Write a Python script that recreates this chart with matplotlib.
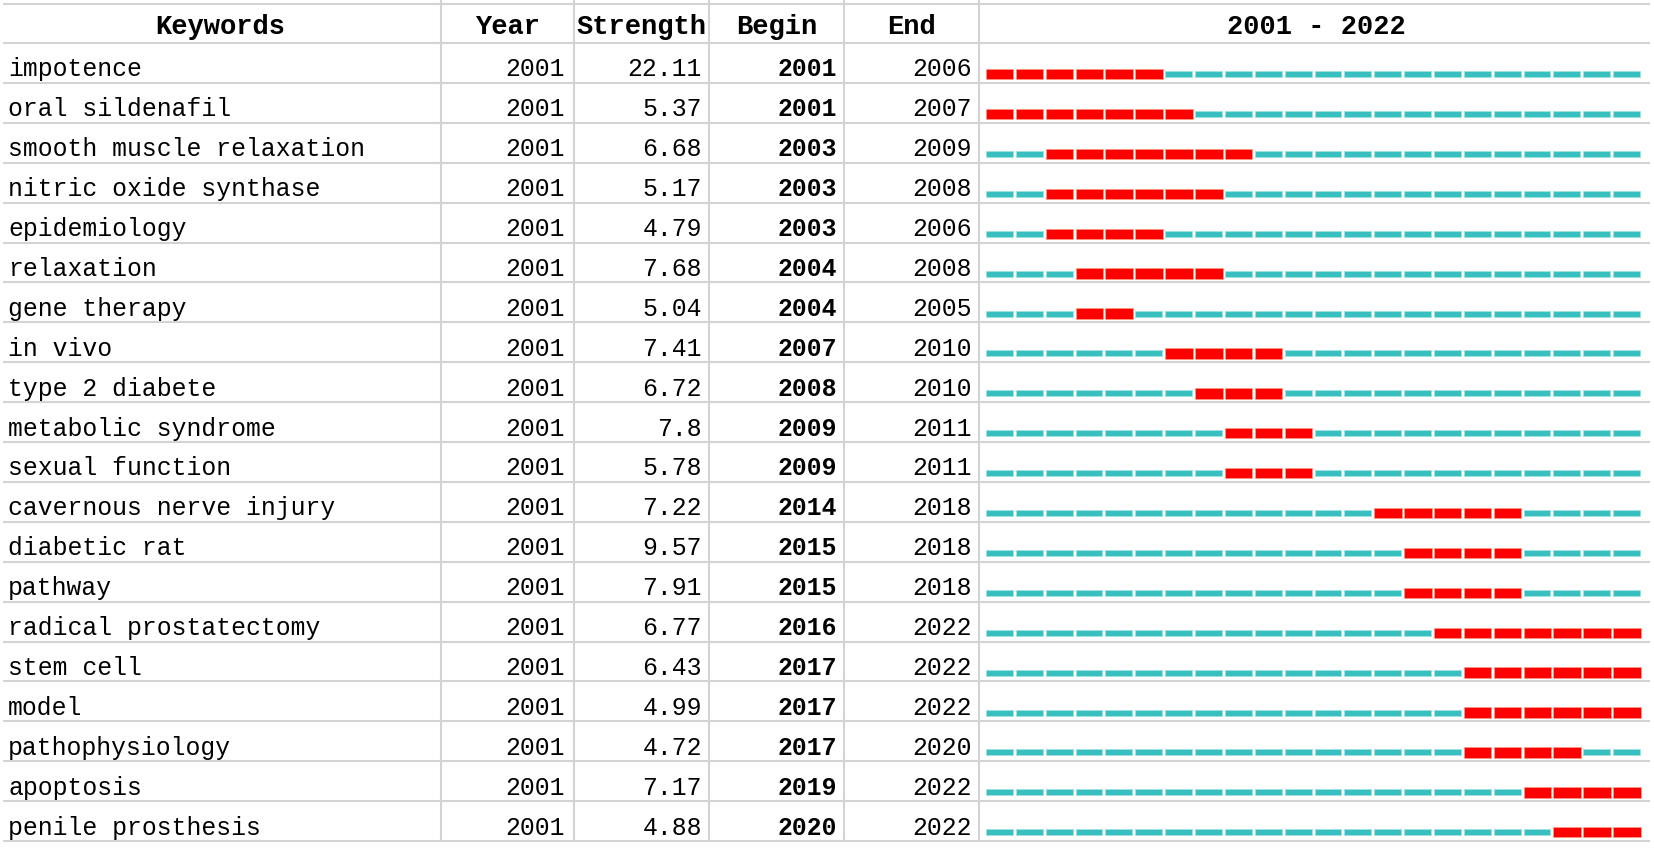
import numpy as np
import matplotlib
matplotlib.use('Agg')
import matplotlib.pyplot as plt

plt.rcParams['font.family'] = ['Liberation Mono', 'DejaVu Sans Mono']

# burst data
keywords = ['impotence', 'oral sildenafil', 'smooth muscle relaxation',
            'nitric oxide synthase', 'epidemiology', 'relaxation',
            'gene therapy', 'in vivo', 'type 2 diabete', 'metabolic syndrome',
            'sexual function', 'cavernous nerve injury', 'diabetic rat',
            'pathway', 'radical prostatectomy', 'stem cell', 'model',
            'pathophysiology', 'apoptosis', 'penile prosthesis']
year = [2001] * 20
strength = [22.11, 5.37, 6.68, 5.17, 4.79, 7.68, 5.04, 7.41, 6.72, 7.8,
            5.78, 7.22, 9.57, 7.91, 6.77, 6.43, 4.99, 4.72, 7.17, 4.88]
begin = [2001, 2001, 2003, 2003, 2003, 2004, 2004, 2007, 2008, 2009,
         2009, 2014, 2015, 2015, 2016, 2017, 2017, 2017, 2019, 2020]
end = [2006, 2007, 2009, 2008, 2006, 2008, 2005, 2010, 2010, 2011,
       2011, 2018, 2018, 2018, 2022, 2022, 2022, 2020, 2022, 2022]
headers = ['Keywords', 'Year', 'Strength', 'Begin', 'End']
first_year, last_year = 2001, 2022

W, H = 1654, 848
fig = plt.figure(figsize=(W / 100, H / 100), dpi=100)

# table layer in pixel units
tab = fig.add_axes([0, 0, 1, 1])
tab.set_xlim(0, W)
tab.set_ylim(H, 0)
tab.axis('off')

n = len(keywords)
top, head_bot, bot = 4, 43, 841
row_h = (bot - head_bot) / n
col_edges = [0, 441, 574, 709, 844, 979, W]
grid_c = '#d3d3d3'

# horizontal rules
for y in [top, head_bot] + [head_bot + row_h * (i + 1) for i in range(n)]:
    tab.plot([3, W - 4], [y, y], color=grid_c, lw=1.5, solid_capstyle='butt')
# vertical rules
for x in col_edges[1:-1]:
    tab.plot([x, x], [0, bot], color=grid_c, lw=1.5, solid_capstyle='butt')

# header
hy = (top + head_bot) / 2 + 3
for i, h in enumerate(headers):
    tab.text((col_edges[i] + col_edges[i + 1]) / 2, hy, h, ha='center',
             va='center', fontsize=19.5, fontweight='bold', color='black')
tab.text((col_edges[5] + col_edges[6]) / 2, hy, f'{first_year} - {last_year}',
         ha='center', va='center', fontsize=19.5, fontweight='bold', color='black')

# rows
fs = 17.8
for i in range(n):
    cy = head_bot + row_h * (i + 0.5) + 4
    tab.text(8, cy, keywords[i], ha='left', va='center_baseline', fontsize=fs)
    tab.text(col_edges[2] - 9, cy, str(year[i]), ha='right', va='center_baseline', fontsize=fs)
    tab.text(col_edges[3] - 7, cy, str(strength[i]), ha='right', va='center_baseline', fontsize=fs)
    tab.text(col_edges[4] - 7, cy, str(begin[i]), ha='right', va='center_baseline',
             fontsize=fs, fontweight='bold')
    tab.text(col_edges[5] - 7, cy, str(end[i]), ha='right', va='center_baseline', fontsize=fs)

# burst bars, in years
bx0, bx1 = 986, 1643
bax = fig.add_axes([bx0 / W, (H - bot) / H, (bx1 - bx0) / W, (bot - head_bot) / H])
bax.set_xlim(first_year, last_year + 1)
bax.set_ylim(n, 0)
bax.axis('off')
bax.patch.set_alpha(0)

years = np.arange(first_year, last_year + 1)
offset = 0.78
for i in range(n):
    hot = (years >= begin[i]) & (years <= end[i])
    bax.barh(i + offset, 0.9, left=years[~hot], height=0.15, align='center',
             color='#38bfbf', edgecolor='#9fe0e0', linewidth=0.6)
    bax.barh(i + offset, 0.92, left=years[hot], height=0.26, align='center',
             color='#ff0000', edgecolor='#ff9a80', linewidth=0.5)

fig.savefig('out.png', dpi=100)
